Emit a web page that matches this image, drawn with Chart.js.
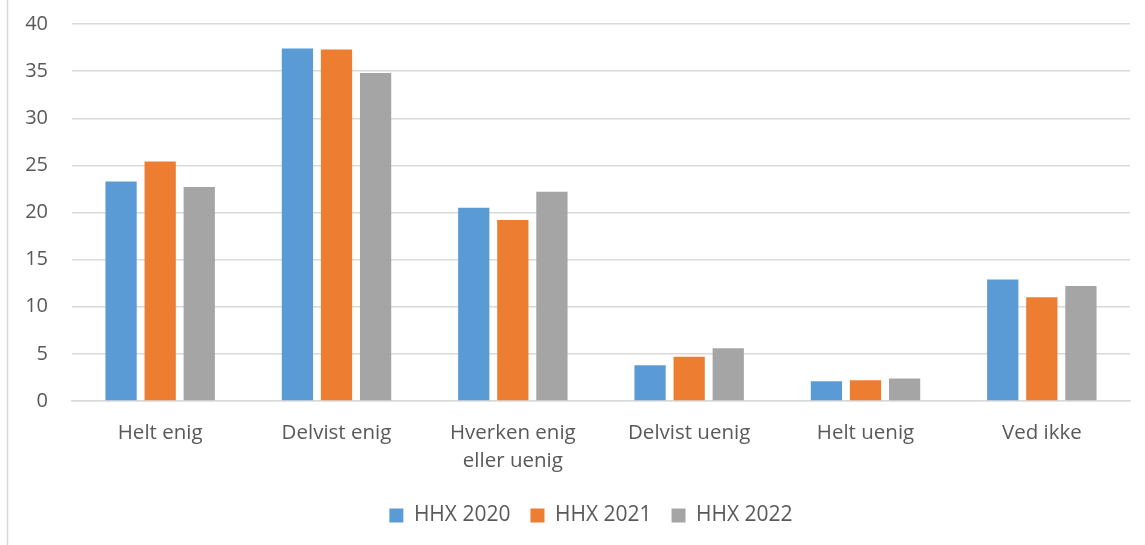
<!DOCTYPE html>
<html>
<head>
<meta charset="utf-8">
<script src="https://cdn.jsdelivr.net/npm/chart.js@4.4.0/dist/chart.umd.min.js"></script>
<style>
html,body{margin:0;padding:0;background:#fff;}
#wrap{width:1145px;height:545px;position:relative;}
</style>
</head>
<body>
<div id="wrap"><canvas id="c" width="1145" height="545"></canvas></div>
<script>
const categories = ["Helt enig", "Delvist enig", ["Hverken enig", "eller uenig"], "Delvist uenig", "Helt uenig", "Ved ikke"];
const hhx2020 = [23.3, 37.4, 20.5, 3.8, 2.1, 12.9];
const hhx2021 = [25.4, 37.3, 19.2, 4.7, 2.2, 11.0];
const hhx2022 = [22.7, 34.8, 22.2, 5.6, 2.4, 12.2];
const yTicks = [0, 5, 10, 15, 20, 25, 30, 35, 40];

const FONT = "'Open Sans', 'Liberation Sans', sans-serif";
const TXT = '#595959';

const frame = {
  id: 'frame',
  afterLayout(chart) {
    const lg = chart.legend;
    if (lg && !lg._shifted) { lg.left += 26; lg.right += 26; lg._shifted = true; }
  },
  beforeDraw(chart) {
    const ctx = chart.ctx;
    ctx.save();
    ctx.fillStyle = '#fff';
    ctx.fillRect(0, 0, chart.width, chart.height);
    ctx.strokeStyle = '#d9d9d9';
    ctx.lineWidth = 1.5;
    ctx.beginPath();
    ctx.moveTo(7.5, 0);
    ctx.lineTo(7.5, chart.height);
    ctx.stroke();
    ctx.restore();
  }
};

new Chart(document.getElementById('c'), {
  type: 'bar',
  data: {
    labels: categories,
    datasets: [
      { label: 'HHX 2020', data: hhx2020, backgroundColor: '#5B9BD5' },
      { label: 'HHX 2021', data: hhx2021, backgroundColor: '#ED7D31' },
      { label: 'HHX 2022', data: hhx2022, backgroundColor: '#A5A5A5' }
    ]
  },
  options: {
    responsive: false,
    animation: false,
    devicePixelRatio: 1,
    layout: { padding: { top: 24, right: 15, left: 0, bottom: 9 } },
    datasets: { bar: { categoryPercentage: 0.665, barPercentage: 0.8 } },
    plugins: {
      legend: {
        position: 'bottom',
        labels: {
          font: { family: FONT, size: 21 },
          color: TXT,
          boxWidth: 14,
          boxHeight: 14,
          padding: 20
        }
      },
      tooltip: { enabled: false }
    },
    scales: {
      x: {
        grid: { display: false, drawTicks: false },
        border: { display: true, color: '#d9d9d9', width: 1.5 },
        ticks: {
          font: { family: FONT, size: 20.5, lineHeight: 1.33 },
          color: TXT,
          padding: 19,
          maxRotation: 0,
          autoSkip: false
        },
        afterFit(scale) { scale.height = 84; scale.paddingLeft = 0; scale.paddingRight = 0; }
      },
      y: {
        min: 0,
        max: 40,
        afterBuildTicks(scale) { scale.ticks = yTicks.map(v => ({ value: v })); },
        grid: { color: '#d9d9d9', lineWidth: 1.5, drawTicks: false },
        border: { display: false },
        ticks: {
          font: { family: FONT, size: 20 },
          color: TXT,
          padding: 24
        },
        afterFit(scale) { scale.width = 72; scale.paddingTop = 0; scale.paddingBottom = 0; }
      }
    }
  },
  plugins: [frame]
});
</script>
</body>
</html>
